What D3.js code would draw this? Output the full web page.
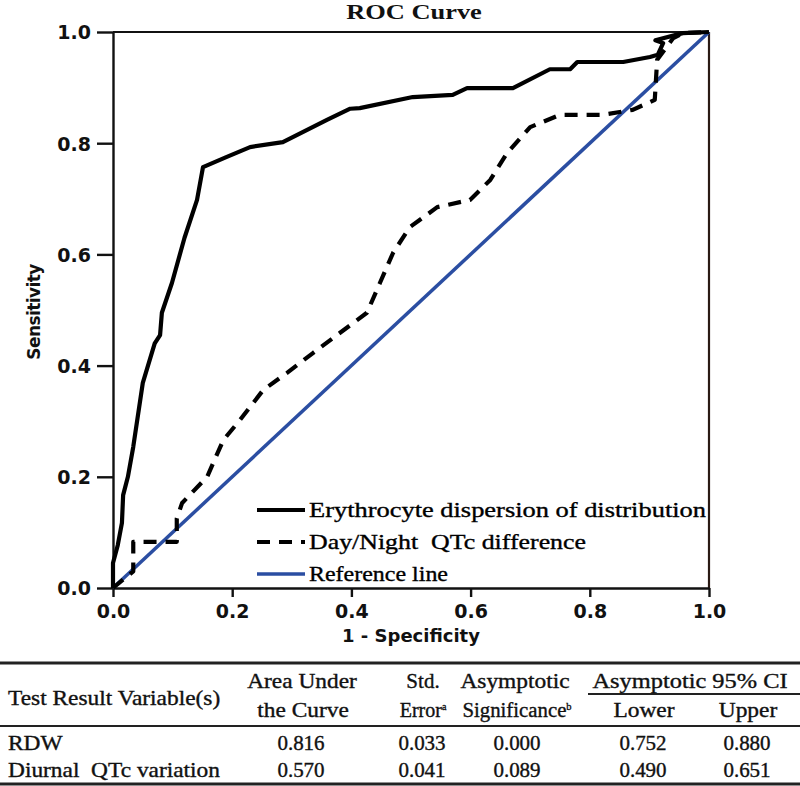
<!DOCTYPE html>
<html>
<head>
<meta charset="utf-8">
<script src="https://cdn.jsdelivr.net/npm/d3@7"></script>
<style>
  html, body { margin: 0; padding: 0; background: #fff; }
  svg { display: block; }
  text { white-space: pre; }
</style>
</head>
<body>
<svg id="chart" width="800" height="786"></svg>
<script>
// ---------- DATA ----------
const rdwFpr = [0, 0, 0.008, 0.015, 0.017, 0.025, 0.034, 0.05, 0.07, 0.079, 0.082, 0.099, 0.12, 0.141, 0.151, 0.19, 0.23, 0.285, 0.359, 0.398, 0.414, 0.503, 0.57, 0.594, 0.671, 0.733, 0.767, 0.779, 0.856, 0.901, 0.914, 0.923, 0.91, 0.956, 1];
const rdwTpr = [0, 0.045, 0.077, 0.117, 0.167, 0.2, 0.254, 0.369, 0.44, 0.455, 0.495, 0.549, 0.63, 0.698, 0.757, 0.775, 0.793, 0.802, 0.842, 0.862, 0.863, 0.883, 0.887, 0.899, 0.899, 0.933, 0.933, 0.946, 0.946, 0.955, 0.959, 0.98, 0.985, 0.998, 1];

const qtcFpr = [0, 0.034, 0.034, 0.107, 0.107, 0.116, 0.158, 0.185, 0.213, 0.252, 0.292, 0.336, 0.381, 0.426, 0.448, 0.47, 0.498, 0.544, 0.599, 0.633, 0.661, 0.7, 0.75, 0.822, 0.872, 0.909, 0.913, 0.94, 0.956, 1];
const qtcTpr = [0, 0.03, 0.083, 0.083, 0.125, 0.153, 0.2, 0.266, 0.302, 0.356, 0.387, 0.423, 0.459, 0.495, 0.549, 0.603, 0.649, 0.685, 0.698, 0.734, 0.782, 0.829, 0.851, 0.851, 0.86, 0.878, 0.95, 0.989, 0.998, 1];

const refFpr = [0, 1];
const refTpr = [0, 1];

const tickValues = [0, 0.2, 0.4, 0.6, 0.8, 1.0];
const legendLabels = ["Erythrocyte dispersion of distribution", "Day/Night  QTc difference", "Reference line"];

const rowNames = ["RDW", "Diurnal  QTc variation"];
const aucValues = ["0.816", "0.570"];
const seValues = ["0.033", "0.041"];
const sigValues = ["0.000", "0.089"];
const lowerValues = ["0.752", "0.490"];
const upperValues = ["0.880", "0.651"];

// ---------- CHART ----------
const svg = d3.select("#chart");
const serif = "'Liberation Serif', 'Times New Roman', serif";
const sans = "'DejaVu Sans', Verdana, sans-serif";

const x = d3.scaleLinear().domain([0, 1]).range([113, 709]);
const y = d3.scaleLinear().domain([0, 1]).range([588, 32]);

// stretched serif text helper (reference serif text is horizontally wide)
function stext(px, py, txt, opts) {
  const o = Object.assign({ size: 20, sx: 1.17, anchor: "middle", weight: "normal", stroke: 0.35 }, opts || {});
  return svg.append("text")
    .attr("transform", `translate(${px},${py}) scale(${o.sx},1)`)
    .attr("text-anchor", o.anchor)
    .style("font-family", serif).style("font-size", o.size + "px").style("font-weight", o.weight)
    .attr("fill", "#111").attr("stroke", "#111").attr("stroke-width", o.stroke)
    .text(txt);
}

// title
stext(414, 19, "ROC Curve", { size: 22, sx: 1.2, weight: "bold", stroke: 0 });

// frame top/right
svg.append("line").attr("x1", x(0)).attr("x2", x(1)).attr("y1", y(1)).attr("y2", y(1))
  .attr("stroke", "#111").attr("stroke-width", 2.2);
svg.append("line").attr("x1", x(1)).attr("x2", x(1)).attr("y1", y(1)).attr("y2", y(0))
  .attr("stroke", "#2a1a14").attr("stroke-width", 2.2);

// axes
const xAxis = d3.axisBottom(x).tickValues(tickValues).tickFormat(d3.format(".1f")).tickSize(9).tickSizeOuter(0);
const yAxis = d3.axisLeft(y).tickValues(tickValues).tickFormat(d3.format(".1f")).tickSize(16).tickSizeOuter(0);

const gx = svg.append("g").attr("transform", `translate(0,${y(0)})`).call(xAxis);
const gy = svg.append("g").attr("transform", `translate(${x(0)},0)`).call(yAxis);
[gx, gy].forEach(g => {
  g.select(".domain").attr("stroke", "#111").attr("stroke-width", 2.4);
  g.selectAll(".tick line").attr("stroke", "#111").attr("stroke-width", 2.4);
  g.selectAll(".tick text").style("font-family", sans).style("font-weight", "bold")
    .style("font-size", "19px").attr("fill", "#111");
});
gx.selectAll(".tick text").attr("y", 17).attr("dy", "0.71em");
gy.selectAll(".tick text").attr("x", -22).attr("dy", "0.36em");

// axis titles
svg.append("text").attr("x", 411).attr("y", 642).attr("text-anchor", "middle")
  .style("font-family", sans).style("font-weight", "bold").style("font-size", "18px")
  .attr("fill", "#111").text("1 - Specificity");
svg.append("text").attr("transform", "translate(40,312) rotate(-90)").attr("text-anchor", "middle")
  .style("font-family", sans).style("font-weight", "bold").style("font-size", "17px")
  .style("letter-spacing", "-0.6px").attr("fill", "#111")
  .text("Sensitivity");

// lines
const line = d3.line().x(d => x(d[0])).y(d => y(d[1]));
const zip = (a, b) => a.map((v, i) => [v, b[i]]);

svg.append("path").datum(zip(refFpr, refTpr)).attr("d", line)
  .attr("fill", "none").attr("stroke", "#2b4ea2").attr("stroke-width", 3.5);
svg.append("path").datum(zip(qtcFpr, qtcTpr)).attr("d", line)
  .attr("fill", "none").attr("stroke", "#000").attr("stroke-width", 4.2)
  .attr("stroke-dasharray", "13,9").attr("stroke-linejoin", "round");
svg.append("path").datum(zip(rdwFpr, rdwTpr)).attr("d", line)
  .attr("fill", "none").attr("stroke", "#000").attr("stroke-width", 4.2)
  .attr("stroke-linejoin", "round");

// legend
const legStyles = [
  { stroke: "#000", dash: null, w: 4.2 },
  { stroke: "#000", dash: "13,9", w: 4.2 },
  { stroke: "#2b4ea2", dash: null, w: 3.5 }
];
const legY = [510, 542, 574];
const legLen = [397, 277, 139];
legendLabels.forEach((lab, i) => {
  svg.append("line").attr("x1", 257).attr("x2", 305).attr("y1", legY[i]).attr("y2", legY[i])
    .attr("stroke", legStyles[i].stroke).attr("stroke-width", legStyles[i].w)
    .attr("stroke-dasharray", legStyles[i].dash);
  svg.append("text").attr("x", 309).attr("y", legY[i] + 7)
    .attr("textLength", legLen[i]).attr("lengthAdjust", "spacingAndGlyphs")
    .style("font-family", serif).style("font-size", "21px").attr("fill", "#000")
    .attr("stroke", "#000").attr("stroke-width", 0.35)
    .text(lab);
});

// ---------- TABLE ----------
svg.append("line").attr("x1", 0).attr("x2", 800).attr("y1", 663).attr("y2", 663).attr("stroke", "#222").attr("stroke-width", 2.8);
svg.append("line").attr("x1", 0).attr("x2", 800).attr("y1", 726).attr("y2", 726).attr("stroke", "#222").attr("stroke-width", 2.2);
svg.append("line").attr("x1", 0).attr("x2", 800).attr("y1", 784).attr("y2", 784).attr("stroke", "#222").attr("stroke-width", 2.8);
svg.append("line").attr("x1", 588).attr("x2", 800).attr("y1", 694).attr("y2", 694).attr("stroke", "#222").attr("stroke-width", 1.8);

stext(8, 705, "Test Result Variable(s)", { anchor: "start" });
stext(302, 688, "Area Under"); stext(303, 717, "the Curve");
stext(423, 688, "Std.", { sx: 1.05 });
const e = stext(423, 717, "Error", { sx: 1.0 }); e.append("tspan").attr("dy", -7).style("font-size", "10px").text("a");
stext(515, 688, "Asymptotic");
const s = stext(517, 717, "Significance", { sx: 1.04 }); s.append("tspan").attr("dy", -7).style("font-size", "10px").text("b");
stext(690, 688, "Asymptotic 95% CI", { sx: 1.22 });
stext(644, 717, "Lower"); stext(748, 717, "Upper");

const rowY = [750, 777];
rowNames.forEach((r, i) => {
  stext(8, rowY[i], r, { anchor: "start" });
  stext(301, rowY[i], aucValues[i], { sx: 1.05 });
  stext(422, rowY[i], seValues[i], { sx: 1.05 });
  stext(517, rowY[i], sigValues[i], { sx: 1.05 });
  stext(643, rowY[i], lowerValues[i], { sx: 1.05 });
  stext(747, rowY[i], upperValues[i], { sx: 1.05 });
});
</script>
</body>
</html>
